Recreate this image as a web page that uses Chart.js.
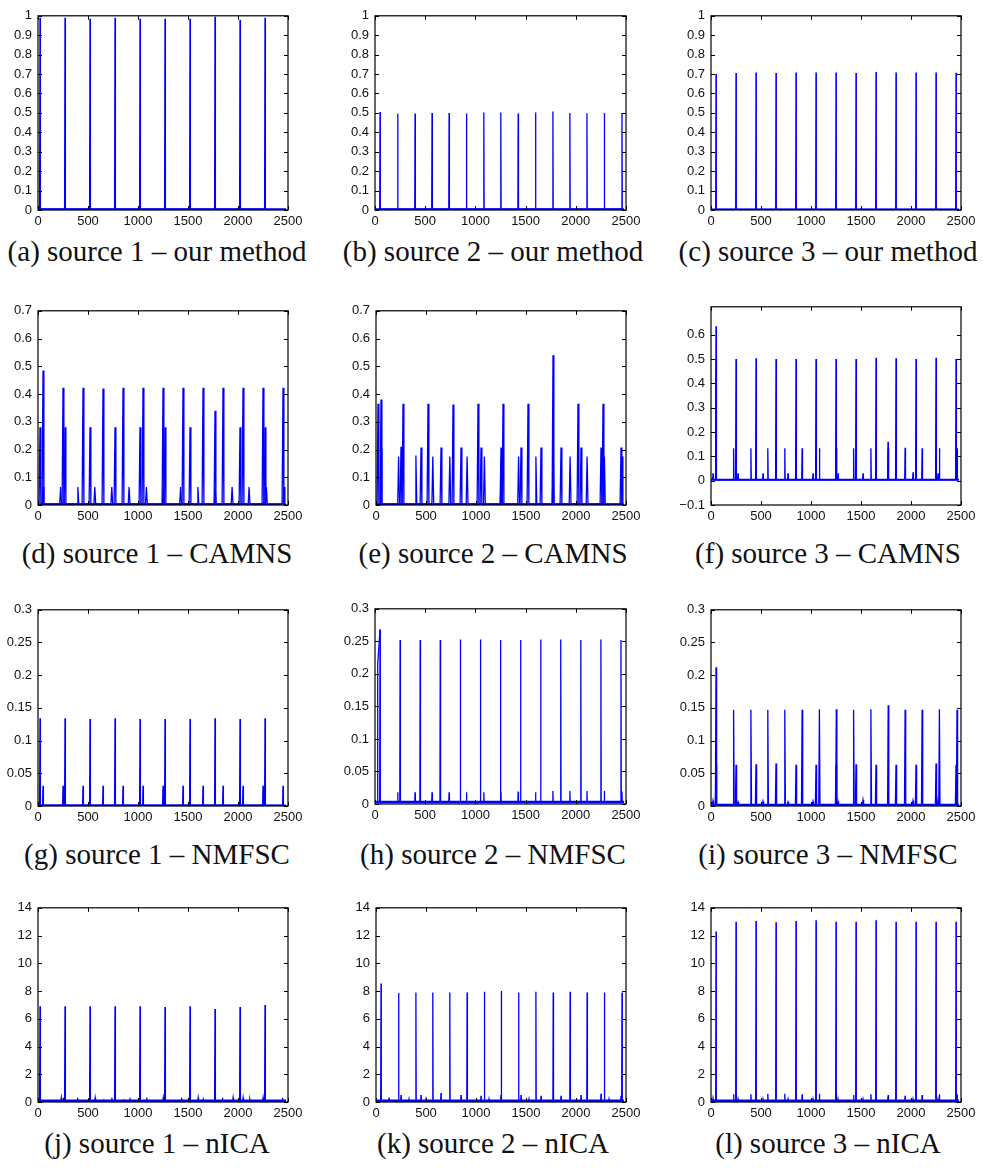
<!DOCTYPE html>
<html>
<head>
<meta charset="utf-8">
<script src="https://cdn.jsdelivr.net/npm/chart.js@4.4.1/dist/chart.umd.min.js"></script>
<style>
  body { margin:0; background:#fff; width:983px; height:1170px; position:relative; overflow:hidden; }
  .panel { position:absolute; }
  .cap { position:absolute; font-family:"Liberation Serif", serif; font-size:29px; color:#111;
         white-space:nowrap; transform:translate(-50%,-50%); line-height:1; }
</style>
</head>
<body>
<script>
// —————— DATA ——————
// spike positions of the three sources (samples)
const SRC1_X = [20, 270, 520, 770, 1020, 1270, 1520, 1770, 2020, 2270];
const SRC2_X = [50, 226, 399, 568, 738, 911, 1084, 1253, 1426, 1599, 1772, 1941, 2111, 2284, 2460];
const SRC3_X = [50, 250, 450, 650, 850, 1050, 1250, 1450, 1650, 1850, 2050, 2250, 2450];

// our method
const A_S1 = [0.99, 0.99, 0.985, 0.99, 0.985, 0.985, 0.985, 0.995, 0.98, 0.99];
const B_S2 = [0.505, 0.495, 0.497, 0.5, 0.5, 0.497, 0.502, 0.502, 0.497, 0.502, 0.507, 0.5, 0.498, 0.5, 0.5];
const C_S3 = [0.7, 0.705, 0.708, 0.705, 0.708, 0.708, 0.708, 0.705, 0.71, 0.708, 0.708, 0.708, 0.707];

// CAMNS
const D_S1 = [0.28, 0.28, 0.28, 0.28, 0.28, 0.28, 0.28, 0.34, 0.28, 0.28];
const D_S2 = [0.065, 0.065, 0.065, 0.065, 0.065, 0.065, 0.065, 0.065, 0.065, 0.065, 0.065, 0.065, 0.065, 0.065, 0.065];
const D_S3 = [0.485, 0.423, 0.423, 0.42, 0.423, 0.423, 0.423, 0.423, 0.423, 0.423, 0.423, 0.423, 0.423];
const E_S1 = [0.365, 0.365, 0.365, 0.362, 0.365, 0.365, 0.365, 0.54, 0.365, 0.365];
const E_S2 = [0.38, 0.175, 0.178, 0.175, 0.175, 0.175, 0.175, 0.175, 0.175, 0.175, 0.175, 0.175, 0.175, 0.175, 0.175];
const E_S3 = [0.205, 0.21, 0.207, 0.207, 0.207, 0.207, 0.207, 0.207, 0.207, 0.207, 0.207, 0.207, 0.207];
const F_S1 = [0.03, 0.03, 0.03, 0.03, 0.03, 0.03, 0.03, 0.16, 0.035, 0.03];
const F_S2 = [0.635, 0.133, 0.133, 0.133, 0.133, 0.133, 0.133, 0.135, 0.133, 0.133, 0.133, 0.135, 0.133, 0.133, 0.133];
const F_S3 = [0.5, 0.5, 0.503, 0.5, 0.5, 0.5, 0.5, 0.5, 0.505, 0.503, 0.5, 0.505, 0.5];

// NMFSC
const G_S1 = [0.134, 0.134, 0.133, 0.134, 0.133, 0.133, 0.133, 0.134, 0.133, 0.134];
const G_S3 = [0.031, 0.031, 0.031, 0.031, 0.031, 0.031, 0.031, 0.031, 0.031, 0.031, 0.031, 0.031, 0.031];
const H_S2 = [0.005, 0.018, 0.018, 0.018, 0.018, 0.018, 0.018, 0.019, 0.019, 0.018, 0.02, 0.02, 0.02, 0.02, 0.019];
const H_S3 = [0.268, 0.252, 0.252, 0.252, 0.253, 0.253, 0.252, 0.252, 0.253, 0.253, 0.252, 0.253, 0.252];
const H_LEAD_X = [24, 27, 50];
const H_LEAD_Y = [0.003, 0.215, 0.268];
const I_S1 = [0.008, 0.006, 0.007, 0.006, 0.007, 0.007, 0.009, 0.005, 0.008, 0.009];
const I_S2 = [0.212, 0.147, 0.147, 0.147, 0.147, 0.147, 0.148, 0.148, 0.147, 0.148, 0.154, 0.147, 0.147, 0.148, 0.147];
const I_S3 = [0.063, 0.063, 0.064, 0.065, 0.063, 0.063, 0.063, 0.064, 0.063, 0.063, 0.063, 0.065, 0.063];

// nICA
const J_S1 = [6.9, 6.9, 6.9, 6.9, 6.9, 6.85, 6.9, 6.7, 6.85, 7.0];
const J_NOISE_X = [233, 256, 396, 572, 655, 738, 854, 920, 1087, 1253, 1436, 1602, 1652, 1845, 1951, 2051, 2118, 2251, 2444];
const J_NOISE_Y = [0.3, 0.3, 0.3, 0.3, 0.2, 0.3, 0.2, 0.2, 0.3, 0.3, 0.3, 0.3, 0.2, 0.3, 0.3, 0.3, 0.2, 0.3, 0.3];
const K_S2 = [8.55, 7.85, 7.9, 7.9, 7.9, 7.9, 7.95, 8.0, 7.9, 7.95, 7.9, 7.95, 7.9, 7.9, 7.9];
const K_S3 = [0.5, 0.5, 0.5, 0.65, 0.5, 0.45, 0.5, 0.5, 0.45, 0.45, 0.5, 0.6, 0.45];
const K_NOISE_X = [130, 330, 500, 1130, 1530, 2330];
const K_NOISE_Y = [0.3, 0.2, 0.2, 0.2, 0.2, 0.2];
const L_S1 = [0.25, 0.2, 0.2, 0.2, 0.2, 0.2, 0.2, 0.2, 0.2, 0.2];
const L_S2 = [0.2, 0.55, 0.55, 0.6, 0.6, 0.55, 0.6, 0.55, 0.5, 0.55, 0.5, 0.45, 0.5, 0.55, 0.55];
const L_S3 = [12.3, 13.0, 13.05, 12.95, 13.05, 13.1, 13.0, 13.0, 13.1, 13.0, 13.0, 13.0, 13.0];

// tick labels
const X_TICKS = [0, 500, 1000, 1500, 2000, 2500];
const Y_TICKS_1 = [0, 0.1, 0.2, 0.3, 0.4, 0.5, 0.6, 0.7, 0.8, 0.9, 1];
const Y_TICKS_07 = [0, 0.1, 0.2, 0.3, 0.4, 0.5, 0.6, 0.7];
const Y_TICKS_F = [-0.1, 0, 0.1, 0.2, 0.3, 0.4, 0.5, 0.6];
const Y_TICKS_03 = [0, 0.05, 0.1, 0.15, 0.2, 0.25, 0.3];
const Y_TICKS_14 = [0, 2, 4, 6, 8, 10, 12, 14];

const CAPTIONS = [
  '(a) source 1 – our method', '(b) source 2 – our method', '(c) source 3 – our method',
  '(d) source 1 – CAMNS', '(e) source 2 – CAMNS', '(f) source 3 – CAMNS',
  '(g) source 1 – NMFSC', '(h) source 2 – NMFSC', '(i) source 3 – NMFSC',
  '(j) source 1 – nICA', '(k) source 2 – nICA', '(l) source 3 – nICA'
];

// —————— LAYOUT ——————
// box = plot area [left, top, right, bottom] in page px, cap = caption centre
const PANELS = [
  { box:[38,14,288,210],   cap:[157,251],  y:[0,1],       ticks:Y_TICKS_1,  base:0.004, band:2,   hw:4, series:[[SRC1_X,A_S1]] },
  { box:[375,14,626,210],  cap:[493,251],  y:[0,1],       ticks:Y_TICKS_1,  base:0.004, band:2,   hw:3, series:[[SRC2_X,B_S2]] },
  { box:[711,14,961,210],  cap:[828,251],  y:[0,1],       ticks:Y_TICKS_1,  base:0.003, band:2,   hw:3, series:[[SRC3_X,C_S3]] },
  { box:[38,309,288,505],  cap:[157,553],  y:[0,0.7],     ticks:Y_TICKS_07, base:0.003, band:1.5, hw:9, series:[[SRC1_X,D_S1],[SRC2_X,D_S2],[SRC3_X,D_S3]] },
  { box:[376,309,626,505], cap:[493,553],  y:[0,0.7],     ticks:Y_TICKS_07, base:0.003, band:1.5, hw:9, series:[[SRC1_X,E_S1],[SRC2_X,E_S2],[SRC3_X,E_S3]] },
  { box:[711,305,961,505], cap:[828,553],  y:[-0.1,0.715],ticks:Y_TICKS_F,  base:0.004, band:2,   hw:4, series:[[SRC1_X,F_S1],[SRC2_X,F_S2],[SRC3_X,F_S3]] },
  { box:[38,608,288,806],  cap:[157,854],  y:[0,0.3],     ticks:Y_TICKS_03, base:0.001, band:1.5, hw:4, series:[[SRC1_X,G_S1],[SRC3_X,G_S3]] },
  { box:[375,607,626,804], cap:[493,854],  y:[0,0.3],     ticks:Y_TICKS_03, base:0.003, band:2.5, hw:3, series:[[SRC2_X,H_S2],[SRC3_X,H_S3]], lead:[H_LEAD_X,H_LEAD_Y] },
  { box:[711,608,961,806], cap:[828,854],  y:[0,0.3],     ticks:Y_TICKS_03, base:0.002, band:2,   hw:6, series:[[SRC1_X,I_S1],[SRC2_X,I_S2],[SRC3_X,I_S3]] },
  { box:[38,906,288,1102], cap:[157,1143], y:[0,14],      ticks:Y_TICKS_14, base:0.08,  band:3,   hw:4, series:[[SRC1_X,J_S1],[J_NOISE_X,J_NOISE_Y]] },
  { box:[376,906,626,1102],cap:[493,1143], y:[0,14],      ticks:Y_TICKS_14, base:0.08,  band:3,   hw:3, series:[[SRC2_X,K_S2],[SRC3_X,K_S3],[K_NOISE_X,K_NOISE_Y]] },
  { box:[711,906,961,1102],cap:[828,1143], y:[0,14],      ticks:Y_TICKS_14, base:0.08,  band:3,   hw:3, series:[[SRC1_X,L_S1],[SRC2_X,L_S2],[SRC3_X,L_S3]] }
];

const PAD_L = 46, PAD_R = 22, PAD_T = 12, PAD_B = 24;
const BLUE = '#0000ff';
const TICK_FONT = { family:'"Liberation Sans", Arial, sans-serif', size:13 };

function fmtTick(v) {
  return String(Math.round(v * 1000) / 1000).replace('-', '\u2212');
}

function spikePoints(xs, hs, base, hw) {
  const pts = [];
  xs.forEach((x, i) => {
    pts.push({ x: x - hw, y: base }, { x: x, y: hs[i] }, { x: x + hw, y: base });
  });
  return pts;
}

// matlab-like box with inward ticks on all four sides
const boxPlugin = {
  id: 'mbox',
  afterDraw(chart) {
    const { ctx, chartArea: a, scales } = chart;
    ctx.save();
    ctx.strokeStyle = '#000';
    ctx.lineWidth = 1.2;
    ctx.strokeRect(a.left, a.top, a.right - a.left, a.bottom - a.top);
    ctx.lineWidth = 1;
    ctx.beginPath();
    scales.x.ticks.forEach(t => {
      const px = Math.round(scales.x.getPixelForValue(t.value)) + 0.5;
      ctx.moveTo(px, a.bottom); ctx.lineTo(px, a.bottom - 4);
      ctx.moveTo(px, a.top);    ctx.lineTo(px, a.top + 4);
    });
    scales.y.ticks.forEach(t => {
      const py = Math.round(scales.y.getPixelForValue(t.value)) + 0.5;
      ctx.moveTo(a.left, py);  ctx.lineTo(a.left + 4, py);
      ctx.moveTo(a.right, py); ctx.lineTo(a.right - 4, py);
    });
    ctx.stroke();
    ctx.restore();
  }
};

// —————— BUILD ——————
PANELS.forEach((p, idx) => {
  const [l, t, r, b] = p.box;
  const w = r - l + PAD_L + PAD_R;
  const h = b - t + PAD_T + PAD_B;

  const wrap = document.createElement('div');
  wrap.className = 'panel';
  wrap.style.left = (l - PAD_L) + 'px';
  wrap.style.top = (t - PAD_T) + 'px';
  const canvas = document.createElement('canvas');
  canvas.width = w; canvas.height = h;
  canvas.style.width = w + 'px'; canvas.style.height = h + 'px';
  wrap.appendChild(canvas);
  document.body.appendChild(wrap);

  const cap = document.createElement('div');
  cap.className = 'cap';
  cap.textContent = CAPTIONS[idx];
  cap.style.left = p.cap[0] + 'px';
  cap.style.top = p.cap[1] + 'px';
  document.body.appendChild(cap);

  const datasets = [{
    data: [{ x: 0, y: p.base }, { x: 2480, y: p.base }],
    borderColor: BLUE, borderWidth: p.band
  }];
  p.series.forEach(([xs, hs]) => {
    datasets.push({ data: spikePoints(xs, hs, p.base, p.hw), borderColor: BLUE, borderWidth: 1.3 });
  });
  if (p.lead) {
    const [lx, ly] = p.lead;
    datasets.push({ data: lx.map((x, i) => ({ x: x, y: ly[i] })), borderColor: BLUE, borderWidth: 1.3 });
  }

  new Chart(canvas, {
    type: 'line',
    data: { datasets },
    options: {
      responsive: false,
      animation: false,
      events: [],
      layout: { padding: { top: PAD_T, right: PAD_R, left: 0, bottom: 0 } },
      elements: { point: { radius: 0 }, line: { tension: 0, borderJoinStyle: 'miter' } },
      plugins: { legend: { display: false }, tooltip: { enabled: false } },
      scales: {
        x: {
          type: 'linear', min: 0, max: 2500,
          afterBuildTicks: s => { s.ticks = X_TICKS.map(v => ({ value: v })); },
          afterFit: s => { s.height = PAD_B; },
          grid: { display: false, drawTicks: false },
          border: { display: false },
          ticks: { font: TICK_FONT, color: '#111', padding: 4, maxRotation: 0, autoSkip: false, callback: fmtTick }
        },
        y: {
          type: 'linear', min: p.y[0], max: p.y[1],
          afterBuildTicks: s => { s.ticks = p.ticks.map(v => ({ value: v })); },
          afterFit: s => { s.width = PAD_L; },
          grid: { display: false, drawTicks: false },
          border: { display: false },
          ticks: { font: TICK_FONT, color: '#111', padding: 6, autoSkip: false, callback: fmtTick }
        }
      }
    },
    plugins: [boxPlugin]
  });
});
</script>
</body>
</html>
